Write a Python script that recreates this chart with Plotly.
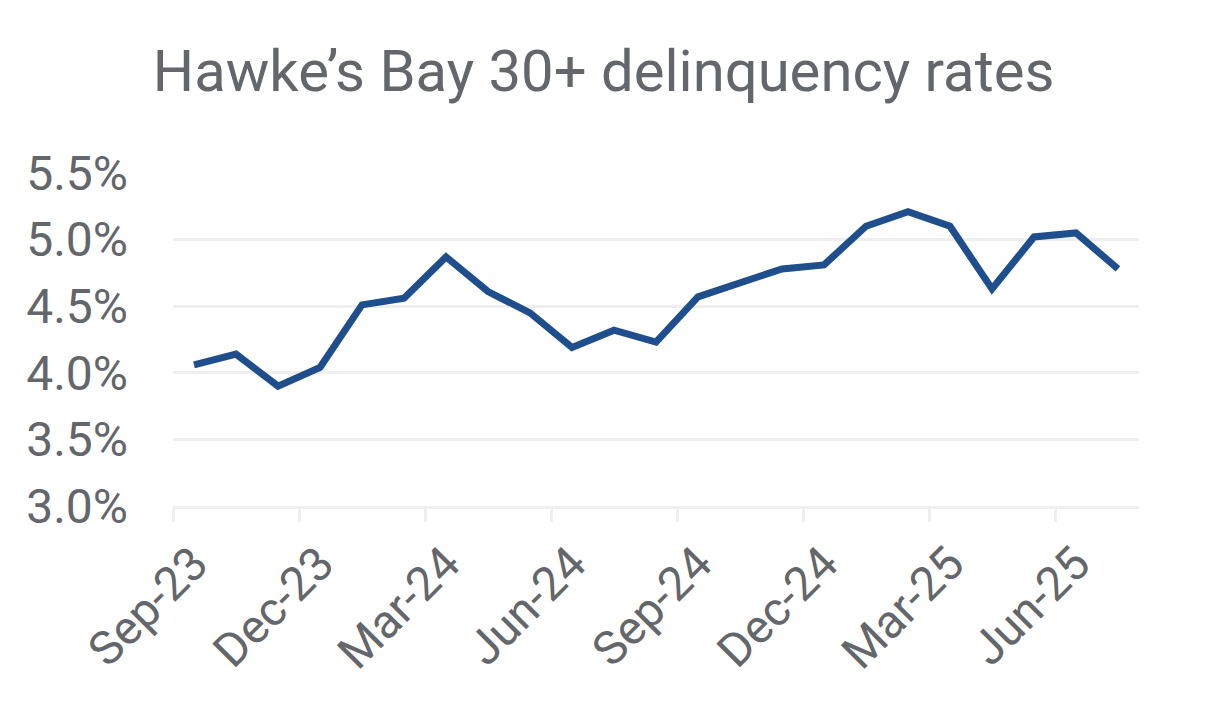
import plotly.graph_objects as go

# monthly 30+ delinquency rate, Hawke's Bay (%)
months = ["Sep-23", "Oct-23", "Nov-23", "Dec-23", "Jan-24", "Feb-24", "Mar-24",
          "Apr-24", "May-24", "Jun-24", "Jul-24", "Aug-24", "Sep-24", "Oct-24",
          "Nov-24", "Dec-24", "Jan-25", "Feb-25", "Mar-25", "Apr-25", "May-25",
          "Jun-25", "Jul-25"]
rates = [4.06, 4.14, 3.90, 4.04, 4.51, 4.56, 4.87, 4.61, 4.45, 4.19, 4.32, 4.23,
         4.57, 4.67, 4.78, 4.81, 5.10, 5.21, 5.10, 4.63, 5.02, 5.05, 4.78]
y_ticks = [3.0, 3.5, 4.0, 4.5, 5.0, 5.5]
y_labels = ["3.0%", "3.5%", "4.0%", "4.5%", "5.0%", "5.5%"]

grey_text = "#63666A"
light = "#EFEFEF"

fig = go.Figure()
fig.add_trace(go.Scatter(x=months, y=rates, mode="lines",
                         line=dict(color="#1F4E8D", width=7)))

fig.update_layout(
    width=1213, height=707,
    margin=dict(l=165, r=82, t=165, b=209),
    plot_bgcolor="white", paper_bgcolor="white",
    showlegend=False,
    font=dict(family="Roboto", color=grey_text),
    title=dict(text="Hawke\u2019s Bay 30+ delinquency rates",
               x=0.491, xanchor="center", y=0.912, yref="container", yanchor="middle",
               font=dict(size=58, color=grey_text)),
)

fig.update_xaxes(
    type="category", range=[-0.5, len(months) - 0.5],
    tickmode="linear", tick0=0, dtick=3, tickson="boundaries",
    ticks="outside", ticklen=13, tickwidth=2.5, tickcolor=light,
    showline=True, linecolor=light, linewidth=3,
    showgrid=False, tickangle=-45, ticklabelstandoff=8,
    tickfont=dict(size=47, color=grey_text),
)
fig.update_yaxes(
    range=[3.0, 5.5], tickvals=y_ticks, ticktext=y_labels,
    showgrid=True, gridcolor=light, gridwidth=2.5,
    zeroline=False, showline=False, ticklabelstandoff=44,
    tickfont=dict(size=48, color=grey_text),
)

fig.write_html("out.html")
